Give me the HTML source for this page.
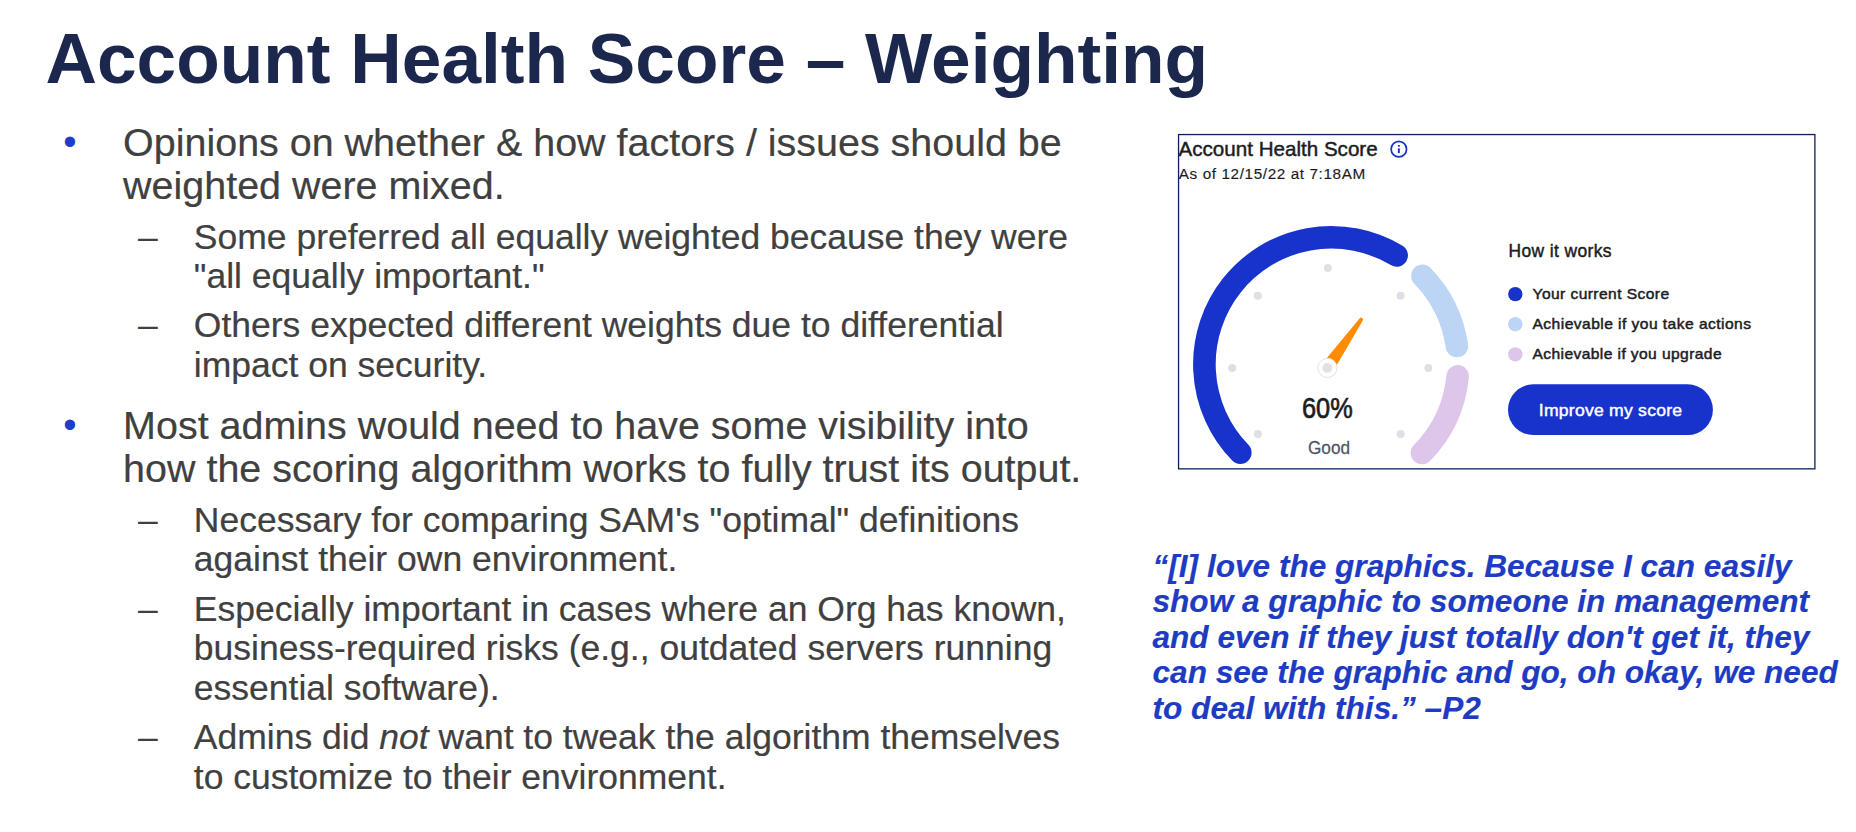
<!DOCTYPE html>
<html><head><meta charset="utf-8">
<style>
html,body{margin:0;padding:0;background:#fff;}
body{width:1856px;height:832px;position:relative;overflow:hidden;font-family:"Liberation Sans",sans-serif;}
.t{position:absolute;white-space:nowrap;line-height:1;}
#title{left:45.5px;font-size:71.25px;font-weight:bold;color:#1b274d;}
.l1{font-size:39.46px;color:#404040;-webkit-text-stroke:0.2px #404040;left:123.1px;}
.l2{font-size:35.51px;color:#404040;-webkit-text-stroke:0.2px #404040;left:193.8px;}
.b1{font-size:38px;color:#1f3dcb;left:63.3px;}
.b2{font-size:35.51px;color:#404040;left:138px;}
.q{font-size:31.6px;font-weight:bold;font-style:italic;color:#1d3bc3;-webkit-text-stroke:0.15px #1d3bc3;left:1152.5px;}
.c{font-family:"Liberation Sans",sans-serif;color:#1b1c1f;}
svg{position:absolute;left:0;top:0;}
</style></head><body>

<div class="t" id="title" style="top:23px">Account Health Score – Weighting</div>
<div class="t b1" style="top:123px">•</div>
<div class="t l1" style="top:123px">Opinions on whether &amp; how factors / issues should be</div>
<div class="t l1" style="top:166px">weighted were mixed.</div>
<div class="t b2" style="top:220px">–</div>
<div class="t l2" style="top:220px">Some preferred all equally weighted because they were</div>
<div class="t l2" style="top:259px">"all equally important."</div>
<div class="t b2" style="top:308px">–</div>
<div class="t l2" style="top:308px">Others expected different weights due to differential</div>
<div class="t l2" style="top:348px">impact on security.</div>
<div class="t b1" style="top:406px">•</div>
<div class="t l1" style="top:406px">Most admins would need to have some visibility into</div>
<div class="t l1" style="top:449px">how the scoring algorithm works to fully trust its output.</div>
<div class="t b2" style="top:503px">–</div>
<div class="t l2" style="top:503px">Necessary for comparing SAM's "optimal" definitions</div>
<div class="t l2" style="top:542px">against their own environment.</div>
<div class="t b2" style="top:592px">–</div>
<div class="t l2" style="top:592px">Especially important in cases where an Org has known,</div>
<div class="t l2" style="top:631px">business-required risks (e.g., outdated servers running</div>
<div class="t l2" style="top:671px">essential software).</div>
<div class="t b2" style="top:720px">–</div>
<div class="t l2" style="top:720px">Admins did <i>not</i> want to tweak the algorithm themselves</div>
<div class="t l2" style="top:760px">to customize to their environment.</div>
<div class="t q" style="top:551px">“[I] love the graphics. Because I can easily</div>
<div class="t q" style="top:586px">show a graphic to someone in management</div>
<div class="t q" style="top:622px">and even if they just totally don't get it, they</div>
<div class="t q" style="top:657px">can see the graphic and go, oh okay, we need</div>
<div class="t q" style="top:693px">to deal with this.” –P2</div>
<svg width="1856" height="832" viewBox="0 0 1856 832">
<rect x="1178.55" y="134.55" width="636.35" height="334.3" fill="none" stroke="#0b1f5c" stroke-width="1.3"/>
<path d="M1240.32 452.67 A126.9 126.9 0 0 1 1396.66 255.43" fill="none" stroke="#1733cc" stroke-width="22.6" stroke-linecap="round"/>
<path d="M1422.43 275.89 A126.9 126.9 0 0 1 1456.87 345.88" fill="none" stroke="#bdd5f5" stroke-width="22.6" stroke-linecap="round"/>
<path d="M1457.62 376.36 A126.9 126.9 0 0 1 1421.97 452.99" fill="none" stroke="#dec6ea" stroke-width="22.6" stroke-linecap="round"/>
<circle cx="1327.9" cy="268.0" r="4" fill="#dfe0e5"/>
<circle cx="1257.8" cy="295.7" r="4" fill="#dfe0e5"/>
<circle cx="1400.6" cy="295.7" r="4" fill="#dfe0e5"/>
<circle cx="1232.2" cy="368.0" r="4" fill="#dfe0e5"/>
<circle cx="1428.3" cy="368.0" r="4" fill="#dfe0e5"/>
<circle cx="1257.9" cy="433.9" r="4" fill="#dfe0e5"/>
<circle cx="1400.6" cy="433.9" r="4" fill="#dfe0e5"/>
<path d="M1332.89 371.73 L1362.66 320.69 A1.9 1.9 0 0 0 1359.54 318.51 L1321.91 364.07 Z" fill="#ff8c00"/>
<circle cx="1327.4" cy="367.9" r="9.6" fill="#fff" stroke="#dde3ec" stroke-width="1"/>
<circle cx="1327.4" cy="367.9" r="4.9" fill="#e1e2e6"/>
<circle cx="1398.85" cy="149.15" r="7.7" fill="none" stroke="#1733cc" stroke-width="1.7"/>
<rect x="1397.85" y="148.3" width="2" height="4.9" rx="0.6" fill="#1733cc"/><rect x="1397.85" y="144.9" width="2" height="1.8" rx="0.4" fill="#1733cc"/>
<circle cx="1515.3" cy="294.1" r="7.2" fill="#1733cc"/>
<circle cx="1515.3" cy="324.2" r="7.2" fill="#bdd5f5"/>
<circle cx="1515.3" cy="354.4" r="7.2" fill="#dec6ea"/>
<rect x="1508" y="384.3" width="204.9" height="50.8" rx="25.4" fill="#1833cc"/>
</svg>
<div class="t c" id="c1" style="left:1178.5px;top:139px;font-size:20.6px;-webkit-text-stroke:0.45px #1b1c1f;">Account Health Score</div>
<div class="t c" id="c2" style="left:1178.8px;top:166px;font-size:15.3px;letter-spacing:0.6px;-webkit-text-stroke:0.15px #1b1c1f;">As of 12/15/22 at 7:18AM</div>
<div class="t c" id="c3" style="left:1302.4px;top:396px;font-size:26.4px;transform-origin:0 22px;transform:scale(0.96,1.11);-webkit-text-stroke:0.6px #1b1c1f;">60%</div>
<div class="t c" id="c4" style="left:1308px;top:440px;font-size:17.2px;transform-origin:0 14px;transform:scale(1.0,1.1);color:#4e5567;-webkit-text-stroke:0.25px #4e5567;">Good</div>
<div class="t c" id="c5" style="left:1508.5px;top:243px;font-size:17.4px;transform-origin:0 14px;transform:scale(1.0,1.02);-webkit-text-stroke:0.45px #1b1c1f;letter-spacing:0.4px;">How it works</div>
<div class="t c" id="c6" style="left:1532.5px;top:286px;font-size:15.6px;transform-origin:0 13px;transform:scale(1.0,0.91);-webkit-text-stroke:0.5px #1b1c1f;letter-spacing:0.42px;">Your current Score</div>
<div class="t c" id="c7" style="left:1532.5px;top:316px;font-size:15.6px;transform-origin:0 13px;transform:scale(1.0,0.91);-webkit-text-stroke:0.5px #1b1c1f;letter-spacing:0.45px;">Achievable if you take actions</div>
<div class="t c" id="c8" style="left:1532.5px;top:346px;font-size:15.6px;transform-origin:0 13px;transform:scale(1.0,0.91);-webkit-text-stroke:0.5px #1b1c1f;letter-spacing:0.4px;">Achievable if you upgrade</div>
<div class="t c" id="c9" style="left:1538.8px;top:402px;font-size:17.6px;transform-origin:0 14px;transform:scale(1.0,0.95);color:#fff;-webkit-text-stroke:0.45px #fff;letter-spacing:0.23px;">Improve my score</div>
</body></html>
